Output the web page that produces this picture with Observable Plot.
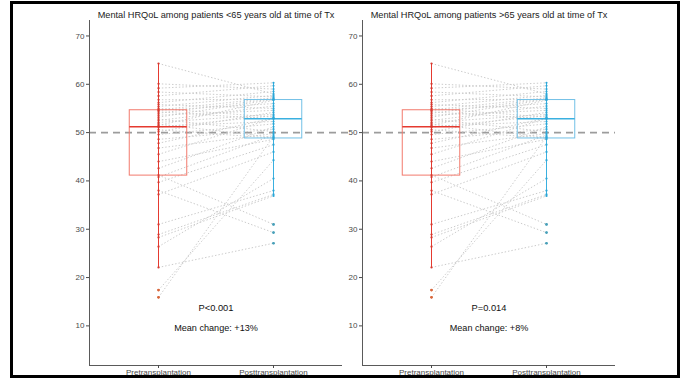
<!DOCTYPE html>
<html><head><meta charset="utf-8">
<script src="https://cdn.jsdelivr.net/npm/d3@7"></script>
<script src="https://cdn.jsdelivr.net/npm/@observablehq/plot@0.6"></script>
<style>
html,body{margin:0;padding:0;background:#fff;}
#wrap{position:relative;width:685px;height:378px;overflow:hidden;font-family:"Liberation Sans",Arial,sans-serif;}
#wrap svg{position:absolute;top:0;}
#frame{position:absolute;left:10px;top:1px;width:664px;height:371px;border:3px solid #000;pointer-events:none;z-index:5;}
</style></head><body><div id="wrap"><div id="frame"></div></div>
<script>
const categories = ["Pretransplantation", "Posttransplantation"];
const panelTitles = [
  "Mental HRQoL among patients <65 years old at time of Tx",
  "Mental HRQoL among patients >65 years old at time of Tx"
];
const pValueLabels = ["P<0.001", "P=0.014"];
const meanChangeLabels = ["Mean change: +13%", "Mean change: +8%"];
const yTicks = [10, 20, 30, 40, 50, 60, 70];
const referenceLine = 50;
// paired scores per patient (same patient order in both arrays)
const preValues = [64.3, 60.1, 59.2, 58.4, 57.6, 56.8, 56.2, 55.8, 55.4, 55.0, 54.7,
  54.6, 54.3, 54.0, 53.6, 53.2, 52.8, 52.5, 52.1, 51.8, 51.5, 51.3,
  51.1, 50.6, 50.2, 49.6, 48.6, 47.8, 46.8, 45.5, 44.0, 42.6, 41.2,
  40.8, 39.7, 38.0, 37.2, 31.0, 28.9, 28.3, 26.4, 22.1, 17.4, 15.9];
const postValues = [58.0, 59.0, 60.3, 57.4, 59.7, 56.9, 58.5, 55.0, 57.7, 53.2, 57.2,
  56.0, 52.8, 57.0, 54.6, 56.85, 50.2, 55.5, 53.8, 49.0, 56.7, 52.3,
  53.5, 48.85, 54.2, 51.8, 50.7, 53.0, 49.8, 52.95, 48.6, 51.2, 31.0,
  49.5, 47.5, 29.3, 46.0, 38.0, 37.2, 36.9, 40.5, 27.1, 44.3, 49.2];

const boxStroke = ["#F27A6C", "#72C0E6"];
const lineStroke = ["#E53A30", "#3AB0E0"];
const dotFill = ["#D9372D", "#2BA6D6"];
const outlierFill = ["#D8693A", "#4A9FB6"];

function stats(values, g) {
  const s = values.slice().sort(d3.ascending);
  const q1 = d3.quantile(s, 0.25), med = d3.quantile(s, 0.5), q3 = d3.quantile(s, 0.75);
  const iqr = q3 - q1;
  const inside = s.filter(v => v >= q1 - 1.5 * iqr && v <= q3 + 1.5 * iqr);
  return {g, q1, med, q3, lo: d3.min(inside), hi: d3.max(inside),
    outliers: s.filter(v => v < q1 - 1.5 * iqr || v > q3 + 1.5 * iqr)};
}

function panel(k, left, width, marginLeft, marginRight, refEnd) {
  const pairs = preValues.map((v, i) => ({pre: v, post: postValues[i]}));
  const points = [
    ...preValues.map(v => ({g: 1, v})),
    ...postValues.map(v => ({g: 2, v}))
  ];
  const boxes = [stats(preValues, 1), stats(postValues, 2)];
  const outs = boxes.flatMap(b => b.outliers.map(v => ({g: b.g, v})));
  const font = 8;
  const svg = Plot.plot({
    width, height: 378, marginLeft, marginRight, marginTop: 20, marginBottom: 13,
    style: {fontFamily: "Liberation Sans, Arial, sans-serif", background: "transparent"},
    x: {type: "linear", domain: [0.4, 2.6], axis: null},
    y: {domain: [1.8, 73.2], axis: null},
    marks: [
      Plot.ruleY([referenceLine], {x1: 0.4, x2: refEnd, stroke: "#9c9c9c", strokeWidth: 1.7, strokeDasharray: "7,5"}),
      Plot.link(pairs, {x1: () => 1, y1: "pre", x2: () => 2, y2: "post",
        stroke: "#cbcbcb", strokeWidth: 1, strokeDasharray: "1.4,2"}),
      Plot.ruleX(boxes, {x: "g", y1: "lo", y2: "hi", stroke: d => lineStroke[d.g - 1], strokeWidth: 1}),
      Plot.rect(boxes, {x1: d => d.g - 0.25, x2: d => d.g + 0.25, y1: "q1", y2: "q3",
        fill: "none", stroke: d => boxStroke[d.g - 1], strokeWidth: 1}),
      Plot.ruleY(boxes, {y: "med", x1: d => d.g - 0.25, x2: d => d.g + 0.25,
        stroke: d => lineStroke[d.g - 1], strokeWidth: 1.6}),
      Plot.dot(points, {x: "g", y: "v", r: 1.1, fill: d => dotFill[d.g - 1], stroke: "none"}),
      Plot.dot(outs, {x: "g", y: "v", r: 1.3, fill: d => outlierFill[d.g - 1], stroke: "none"}),
      Plot.ruleX([0.4], {stroke: "#5a5a5a", strokeWidth: 1}),
      Plot.ruleY([1.8], {stroke: "#5a5a5a", strokeWidth: 1}),
      Plot.axisY(yTicks, {tickSize: 3, tickPadding: 2, fontSize: font, color: "#4a4a4a", label: null}),
      Plot.axisX([1, 2], {tickSize: 3, tickPadding: 1, fontSize: font, color: "#4a4a4a",
        tickFormat: d => categories[d - 1], label: null}),
      Plot.text([panelTitles[k]], {frameAnchor: "top", dy: -9, fontSize: 9.2, fill: "#222"}),
      Plot.text([pValueLabels[k]], {x: 1.5, y: 13.8, fontSize: 9.3, fill: "#111"}),
      Plot.text([meanChangeLabels[k]], {x: 1.5, y: 9.6, fontSize: 9.1, fill: "#111"})
    ]
  });
  svg.style.left = left + "px";
  document.getElementById("wrap").appendChild(svg);
}
panel(0, 0, 355, 89, 13, 2.68);
panel(1, 342, 343, 20, 70, 2.6);
</script>
</body></html>
